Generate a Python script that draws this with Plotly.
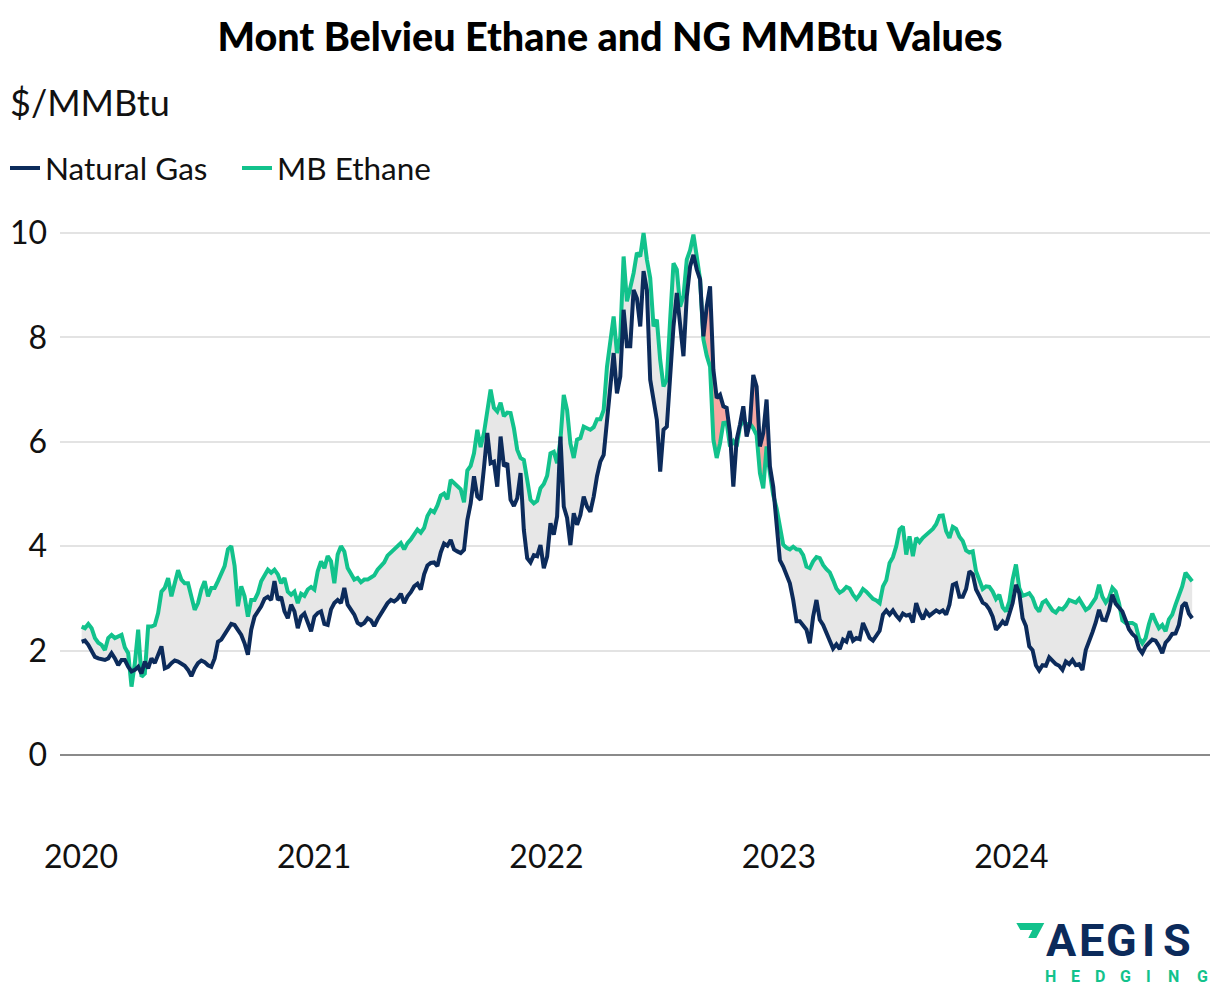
import numpy as np
import pandas as pd
import plotly.graph_objects as go

# ---------------- data ----------------
natural_gas = [
    2.17, 2.19, 2.11, 1.98, 1.88, 1.85, 1.83, 1.82, 1.85, 1.95,
    1.85, 1.72, 1.82, 1.82, 1.69, 1.60, 1.63, 1.69, 1.56, 1.79,
    1.66, 1.85, 1.76, 1.92, 2.08, 1.66, 1.69, 1.76, 1.81, 1.79,
    1.76, 1.71, 1.63, 1.51, 1.66, 1.76, 1.81, 1.78, 1.72, 1.69,
    1.85, 2.17, 2.21, 2.30, 2.41, 2.51, 2.49, 2.40, 2.30, 2.14,
    1.92, 2.40, 2.65, 2.75, 2.85,
    2.99, 3.03, 2.97, 3.33, 2.97, 3.03, 2.75, 2.62, 2.88, 2.75,
    2.43, 2.65, 2.71, 2.56, 2.37, 2.65, 2.72, 2.75, 2.51, 2.49,
    2.79, 2.91, 2.97, 2.91, 3.20, 2.88, 2.77, 2.69, 2.53, 2.49,
    2.53, 2.62, 2.58, 2.47, 2.60, 2.71, 2.79, 2.91, 2.97, 2.94,
    2.99, 3.09, 2.91, 3.04, 3.12, 3.23, 3.28, 3.17, 3.46, 3.63,
    3.68, 3.69, 3.62, 3.88, 4.05, 4.01, 4.12, 3.94,
    3.90, 3.87, 3.93, 4.50, 4.82, 5.34, 4.95, 4.89, 5.50, 6.17,
    5.59, 5.62, 5.14, 6.10, 5.53, 5.59, 4.89, 4.77, 4.92, 5.40,
    4.31, 3.77, 3.69, 3.83, 3.81, 4.02, 3.58, 3.80, 4.44, 4.22,
    4.57, 6.10, 4.76, 4.54, 4.02, 4.63, 4.41, 4.60, 4.95, 4.76,
    4.66, 4.95, 5.34, 5.62, 5.75, 6.42, 7.06, 7.70, 6.93, 7.25,
    8.53, 7.83, 7.83, 8.91, 8.75, 8.21, 9.27, 8.91, 7.19,
    6.81, 6.42, 5.43, 6.23, 6.29, 7.25, 8.21, 8.85, 8.27, 7.64,
    8.79, 9.36, 9.58, 9.30, 9.11, 8.02, 8.59, 8.98, 7.38, 6.84,
    6.90, 6.68, 6.65, 6.17, 5.14, 6.04, 6.33, 6.68, 6.10, 6.36,
    7.28, 7.06, 5.91, 6.17, 6.81, 5.53, 5.14, 4.38, 3.73, 3.61,
    3.45, 3.29, 2.97, 2.56, 2.56, 2.49, 2.40, 2.14, 2.65, 2.97,
    2.59, 2.49, 2.33, 2.19, 2.04, 2.12, 2.03,
    2.21, 2.17, 2.37, 2.19, 2.24, 2.22, 2.53, 2.40, 2.24, 2.19,
    2.30, 2.38, 2.69, 2.77, 2.69, 2.77, 2.67, 2.60, 2.71, 2.67,
    2.69, 2.54, 2.91, 2.72, 2.60, 2.75, 2.67, 2.71, 2.77, 2.73,
    2.77, 2.69, 2.88, 3.26, 3.29, 3.03, 3.03, 3.18, 3.52, 3.46,
    3.17, 3.05, 2.92, 2.88, 2.79, 2.65, 2.40, 2.47, 2.56, 2.49,
    2.72, 2.91, 3.26, 3.10, 2.62, 2.47, 2.08,
    2.01, 1.72, 1.62, 1.72, 1.71, 1.87, 1.79, 1.74, 1.71, 1.63,
    1.79, 1.74, 1.82, 1.72, 1.74, 1.63, 2.01, 2.21, 2.35, 2.54,
    2.78, 2.59, 2.58, 2.77, 3.07, 2.90, 2.83, 2.75, 2.58, 2.41,
    2.32, 2.26, 2.04, 1.95, 2.08, 2.15, 2.21, 2.19, 2.09, 1.95,
    2.15, 2.22, 2.32, 2.33, 2.49, 2.85, 2.92, 2.71, 2.62,
]

mb_ethane = [
    2.46, 2.43, 2.51, 2.43, 2.24, 2.15, 2.11, 2.01, 2.24, 2.30,
    2.24, 2.26, 2.30, 2.06, 1.95, 1.31, 1.76, 2.40, 1.50, 1.56,
    2.46, 2.46, 2.49, 2.72, 3.13, 3.20, 3.39, 3.04, 3.29, 3.54,
    3.36, 3.29, 3.29, 3.04, 2.78, 2.91, 3.17, 3.33, 3.04, 3.20,
    3.20, 3.33, 3.46, 3.62, 3.94, 4.00, 3.62, 2.85, 3.23, 3.04,
    2.65, 2.97, 2.97, 3.10, 3.33,
    3.46, 3.55, 3.49, 3.55, 3.46, 3.29, 3.39, 3.13, 3.07, 3.13,
    2.91, 3.09, 3.05, 3.17, 3.22, 3.17, 3.52, 3.71, 3.58, 3.81,
    3.71, 3.29, 3.84, 4.00, 3.90, 3.58, 3.47, 3.36, 3.39, 3.31,
    3.36, 3.36, 3.40, 3.44, 3.55, 3.63, 3.69, 3.82, 3.88, 3.94,
    4.01, 4.06, 3.94, 4.06, 4.13, 4.21, 4.32, 4.26, 4.35, 4.58,
    4.69, 4.65, 4.78, 4.97, 5.01, 4.90, 5.27, 5.21,
    5.16, 5.09, 4.84, 5.45, 5.54, 5.78, 6.23, 5.90, 6.17, 6.56,
    7.00, 6.65, 6.58, 6.75, 6.49, 6.56, 6.55, 6.26, 5.85, 5.69,
    5.65, 5.27, 4.89, 4.82, 4.87, 5.11, 5.19, 5.35, 5.78, 5.81,
    5.59, 6.04, 6.90, 6.61, 5.97, 5.69, 6.04, 6.07, 6.29, 6.26,
    6.23, 6.28, 6.43, 6.43, 6.61, 7.44, 7.96, 8.40, 7.70, 8.01,
    9.55, 8.69, 8.95, 9.23, 9.62, 9.55, 10.0, 9.49, 9.14,
    8.21, 8.34, 7.57, 7.06, 7.19, 8.34, 9.42, 9.30, 8.59, 8.79,
    9.49, 9.67, 9.97, 9.55, 9.11, 7.96, 7.65, 7.44, 6.04, 5.69,
    5.97, 6.36, 6.37, 5.91, 6.01, 5.91, 6.29, 6.41, 6.33, 6.35,
    6.26, 6.13, 5.40, 5.11, 5.91, 5.40, 4.98, 4.73, 4.35, 4.03,
    3.97, 3.94, 3.99, 3.94, 3.93, 3.83, 3.61, 3.58, 3.71, 3.79,
    3.77, 3.64, 3.56, 3.50, 3.35, 3.19, 3.11,
    3.15, 3.22, 3.19, 3.07, 2.99, 3.07, 3.18, 3.13, 3.05, 2.99,
    2.96, 2.91, 3.23, 3.35, 3.68, 3.79, 4.00, 4.32, 4.38, 3.84,
    4.19, 3.81, 4.16, 4.08, 4.16, 4.21, 4.27, 4.33, 4.42, 4.58,
    4.59, 4.29, 4.16, 4.37, 4.33, 4.18, 4.10, 3.92, 3.88, 3.90,
    3.52, 3.33, 3.18, 3.23, 3.22, 3.13, 2.99, 3.07, 2.83, 2.75,
    2.94, 3.36, 3.65, 3.20, 3.05, 3.07, 3.10,
    3.01, 2.83, 2.75, 2.92, 2.96, 2.86, 2.77, 2.73, 2.81, 2.79,
    2.86, 2.97, 2.94, 2.92, 2.99, 2.88, 2.78, 2.82, 2.91, 3.01,
    3.26, 3.03, 2.92, 3.01, 3.20, 3.13, 2.91, 2.58, 2.53, 2.53,
    2.53, 2.49, 2.24, 2.14, 2.24, 2.51, 2.71, 2.56, 2.43, 2.49,
    2.37, 2.60, 2.69, 2.88, 3.07, 3.23, 3.49, 3.41, 3.33,
]

date_start = "2020-01-02"
date_end = "2024-10-11"
dates = pd.date_range(date_start, date_end, periods=len(natural_gas))

year_ticks = ["2020-01-01", "2021-01-01", "2022-01-01", "2023-01-01", "2024-01-01"]
year_labels = ["2020", "2021", "2022", "2023", "2024"]
y_ticks = [0, 2, 4, 6, 8, 10]

# ---------------- styling ----------------
NAVY = "#0c2b5b"
GREEN = "#12c28c"
GRAY_FILL = "#e7e7e7"
PINK_FILL = "#f6a7a1"
FONT = "Lato"

W, H = 1220, 994
L, R, T, B = 58, 1210, 210, 835


def pxx(x):
    return (x - L) / (R - L)


def pxy(y):
    return (B - y) / (B - T)


# ---------------- fill between with crossing points ----------------
ng = np.asarray(natural_gas, float)
et = np.asarray(mb_ethane, float)
t = dates.asi8.astype(float)
tt, nn, ee = [t[0]], [ng[0]], [et[0]]
for i in range(len(t) - 1):
    d0 = et[i] - ng[i]
    d1 = et[i + 1] - ng[i + 1]
    if d0 * d1 < 0:
        f = d0 / (d0 - d1)
        tc = t[i] + f * (t[i + 1] - t[i])
        vc = ng[i] + f * (ng[i + 1] - ng[i])
        tt.append(tc); nn.append(vc); ee.append(vc)
    tt.append(t[i + 1]); nn.append(ng[i + 1]); ee.append(et[i + 1])
tt = pd.to_datetime(np.array(tt).astype("int64"))
nn = np.array(nn); ee = np.array(ee)
upper = np.maximum(nn, ee)

fig = go.Figure()
fig.add_trace(go.Scatter(x=tt, y=nn, mode="lines", line=dict(width=0),
                         showlegend=False, hoverinfo="skip"))
fig.add_trace(go.Scatter(x=tt, y=upper, mode="lines", line=dict(width=0),
                         fill="tonexty", fillcolor=GRAY_FILL,
                         showlegend=False, hoverinfo="skip"))
fig.add_trace(go.Scatter(x=tt, y=ee, mode="lines", line=dict(width=0),
                         showlegend=False, hoverinfo="skip"))
fig.add_trace(go.Scatter(x=tt, y=upper, mode="lines", line=dict(width=0),
                         fill="tonexty", fillcolor=PINK_FILL,
                         showlegend=False, hoverinfo="skip"))

fig.add_trace(go.Scatter(x=dates, y=mb_ethane, mode="lines", name="MB Ethane",
                         line=dict(color=GREEN, width=4), legendrank=2))
fig.add_trace(go.Scatter(x=dates, y=natural_gas, mode="lines", name="Natural Gas",
                         line=dict(color=NAVY, width=4), legendrank=1))

y_min = -(B - 755) / 52.2
y_max = (755 - T) / 52.2

fig.update_layout(
    width=W, height=H,
    margin=dict(l=L, r=W - R, t=T, b=H - B, pad=0),
    paper_bgcolor="white", plot_bgcolor="white",
    font=dict(family=FONT, color="#111111"),
    title=dict(text="Mont Belvieu Ethane and NG MMBtu Values",
               font=dict(family=FONT, size=39.5, color="#000000", weight=900),
               x=0.5, xref="container", xanchor="center",
               y=1 - 37 / H, yref="container", yanchor="middle"),
    legend=dict(orientation="h", xref="container", yref="container",
                x=5 / W, xanchor="left", y=1 - 168 / H, yanchor="middle",
                entrywidth=187, entrywidthmode="pixels",
                font=dict(family=FONT, size=31.5, color="#111111"),
                bgcolor="rgba(0,0,0,0)", traceorder="normal"),
    xaxis=dict(type="date", range=["2019-11-29", "2024-11-08"],
               tickvals=year_ticks, ticktext=year_labels,
               showgrid=False, zeroline=False, showline=False, ticks="",
               tickfont=dict(family=FONT, size=32, color="#111111")),
    yaxis=dict(range=[y_min, y_max], tickvals=y_ticks,
               showgrid=True, gridcolor="#e3e3e3", gridwidth=2,
               zeroline=True, zerolinecolor="#8a8a8a", zerolinewidth=1.5,
               showline=False, ticks="", ticklabelstandoff=12,
               tickfont=dict(family=FONT, size=32, color="#111111")),
    showlegend=True,
)

annotations = [
    dict(text="$/MMBtu", x=pxx(6), y=pxy(102), xref="paper", yref="paper",
         xanchor="left", yanchor="middle", showarrow=False,
         font=dict(family=FONT, size=36, color="#111111")),
]

# logo
aegis_letters = ["A", "E", "G", "I", "S"]
aegis_x = [1061, 1091, 1121, 1148, 1177]
for ch, x in zip(aegis_letters, aegis_x):
    annotations.append(dict(text=ch, x=pxx(x), y=pxy(940), xref="paper", yref="paper",
                            xanchor="center", yanchor="middle", showarrow=False,
                            font=dict(family="Roboto", size=45, color=NAVY, weight="bold")))
hedging_letters = ["H", "E", "D", "G", "I", "N", "G"]
hedging_x = [1050, 1075, 1100, 1125, 1148, 1173, 1202]
for ch, x in zip(hedging_letters, hedging_x):
    annotations.append(dict(text=ch, x=pxx(x), y=pxy(976), xref="paper", yref="paper",
                            xanchor="center", yanchor="middle", showarrow=False,
                            font=dict(family="Roboto", size=16, color=GREEN, weight="bold")))
fig.update_layout(annotations=annotations)

logo_pts = [(1016, 923), (1044, 923), (1036, 938), (1028, 938), (1032, 930), (1020, 930)]
path = "M " + " L ".join(f"{pxx(x):.5f},{pxy(y):.5f}" for x, y in logo_pts) + " Z"
fig.add_shape(type="path", path=path, xref="paper", yref="paper",
              fillcolor=GREEN, line=dict(width=0))

fig.write_html("out.html", config={"displayModeBar": False},
               post_script="document.body.style.margin='0';")
